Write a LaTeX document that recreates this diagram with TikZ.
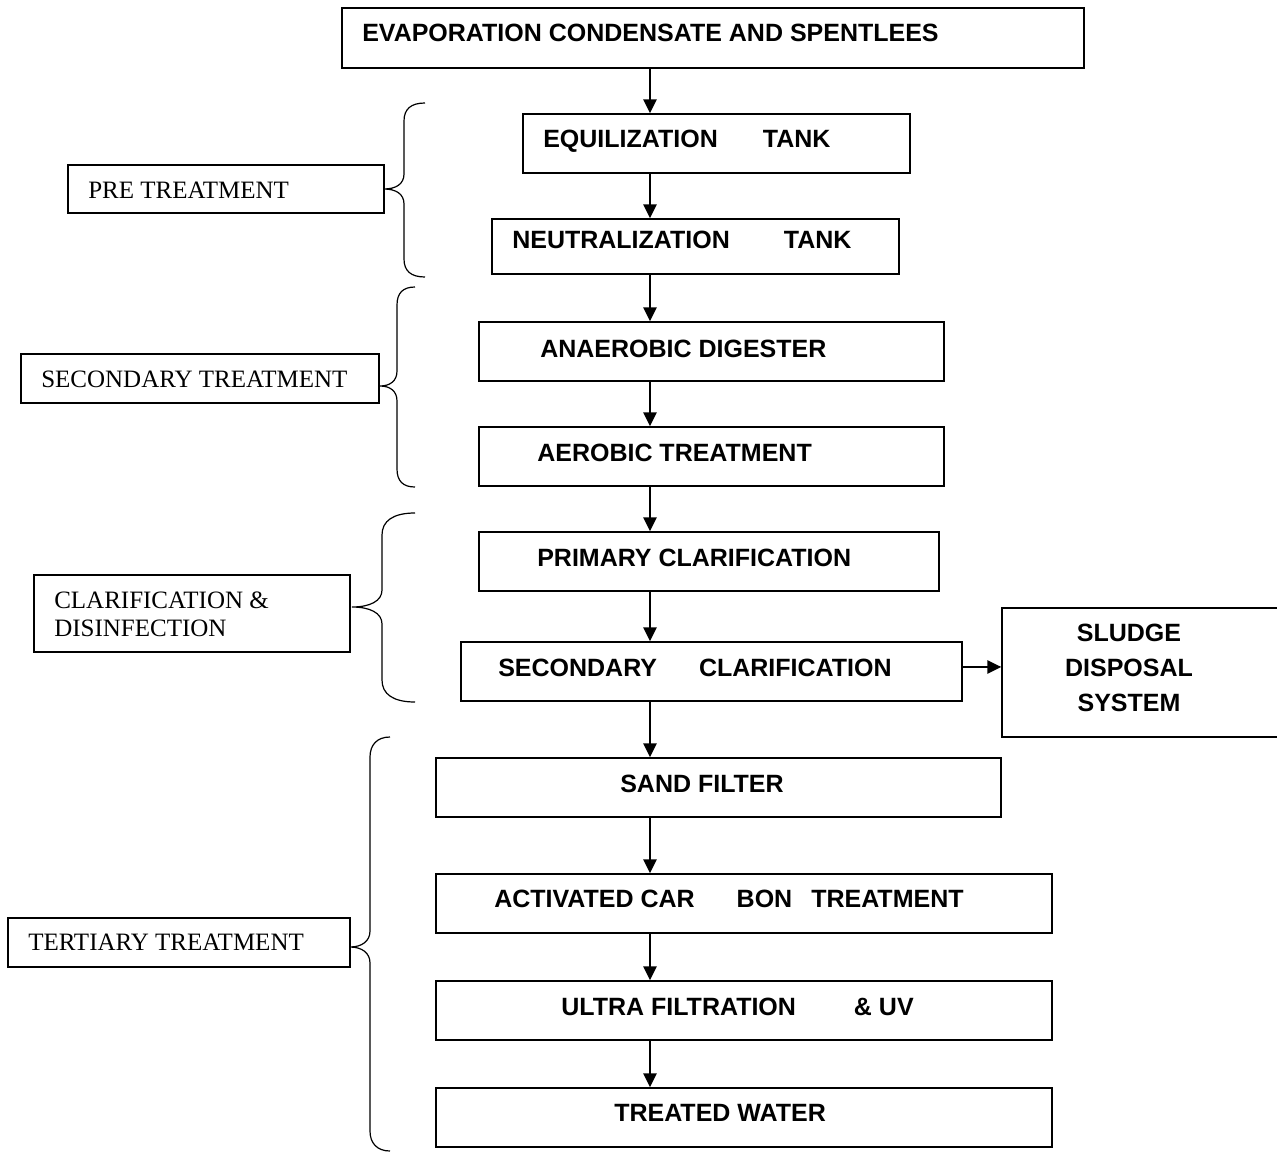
\documentclass[tikz,border=0pt]{standalone}
\usepackage{fontspec}
\setmainfont{Liberation Serif}
\newfontfamily\arialfont{Liberation Sans}
\usetikzlibrary{arrows.meta,fit}

\tikzset{
  flowbox/.style={draw, line width=1.1pt, inner sep=0pt},
  flowtext/.style={font=\arialfont\bfseries\fontsize{18.75}{26.25}\selectfont, inner sep=0pt, anchor=west, text height=13.4pt, text depth=0pt},
  sludgetext/.style={font=\arialfont\bfseries\fontsize{18.75}{26.25}\selectfont, inner sep=0pt, align=center},
  sidetext/.style={font=\fontsize{18.75}{21}\selectfont, inner sep=0pt, anchor=west, align=left},
  flowarrow/.style={line width=1.3pt, -{Triangle[length=10.5pt,width=10pt]}},
  sidebrace/.style={line width=0.9pt},
}

\begin{document}
\begin{tikzpicture}[x=0.75pt,y=0.75pt,yscale=-1,xscale=1]
\useasboundingbox (0,0) rectangle (1277,1152);
\coordinate (spine) at (650,0);

%Shape: Rectangle
\node [flowbox, fit={(342,8) (1084,68)}] (evap) {};
%Shape: Rectangle
\node [flowbox, fit={(523,114) (910,173)}] (equal) {};
%Shape: Rectangle
\node [flowbox, fit={(492,219) (899,274)}] (neutral) {};
%Shape: Rectangle
\node [flowbox, fit={(479,322) (944,381)}] (anaer) {};
%Shape: Rectangle
\node [flowbox, fit={(479,427) (944,486)}] (aer) {};
%Shape: Rectangle
\node [flowbox, fit={(479,532) (939,591)}] (primclar) {};
%Shape: Rectangle
\node [flowbox, fit={(461,642) (962,701)}] (secclar) {};
%Shape: Rectangle
\node [flowbox, fit={(1002,608) (1290,737)}] (sludge) {};
%Shape: Rectangle
\node [flowbox, fit={(436,758) (1001,817)}] (sand) {};
%Shape: Rectangle
\node [flowbox, fit={(436,874) (1052,933)}] (carbon) {};
%Shape: Rectangle
\node [flowbox, fit={(436,981) (1052,1040)}] (ultra) {};
%Shape: Rectangle
\node [flowbox, fit={(436,1088) (1052,1147)}] (treated) {};

% Text Node
\node [flowtext] (evaptxt) at (362,33) {EVAPORATION CONDENSATE AND SPENTLEES};
% Text Node
\node [flowtext] (equaltxt) at (543,139) {EQUILIZATION\hspace{1.8em}TANK};
% Text Node
\node [flowtext] (neutraltxt) at (512,240) {NEUTRALIZATION\hspace{2.16em}TANK};
% Text Node
\node [flowtext] (anaertxt) at (540,349) {ANAEROBIC DIGESTER};
% Text Node
\node [flowtext] (aertxt) at (537,453) {AEROBIC TREATMENT};
% Text Node
\node [flowtext] (primclartxt) at (537,558) {PRIMARY CLARIFICATION};
% Text Node
\node [flowtext] (secclartxt) at (498,668) {SECONDARY\hspace{1.68em}CLARIFICATION};
% Text Node
\node [sludgetext] (sludgetxt) at (1129,668) {SLUDGE\\DISPOSAL\\SYSTEM};
% Text Node
\node [flowtext] (sandtxt) at (620,784) {SAND FILTER};
% Text Node
\node [flowtext] (carbontxt) at (494,899) {ACTIVATED CAR\hspace{1.68em}BON\hspace{0.76em}TREATMENT};
% Text Node
\node [flowtext] (ultratxt) at (561,1007) {ULTRA FILTRATION\hspace{2.32em}\& UV};
% Text Node
\node [flowtext] (treatedtxt) at (614,1113) {TREATED WATER};

% Arrows
\draw [flowarrow] (evap.south -| spine) -- (equal.north -| spine);
\draw [flowarrow] (equal.south -| spine) -- (neutral.north -| spine);
\draw [flowarrow] (neutral.south -| spine) -- (anaer.north -| spine);
\draw [flowarrow] (anaer.south -| spine) -- (aer.north -| spine);
\draw [flowarrow] (aer.south -| spine) -- (primclar.north -| spine);
\draw [flowarrow] (primclar.south -| spine) -- (secclar.north -| spine);
\draw [flowarrow] (secclar.south -| spine) -- (sand.north -| spine);
\draw [flowarrow] (sand.south -| spine) -- (carbon.north -| spine);
\draw [flowarrow] (carbon.south -| spine) -- (ultra.north -| spine);
\draw [flowarrow] (ultra.south -| spine) -- (treated.north -| spine);
\draw [flowarrow] ([yshift=-3.4pt]secclar.east) -- ([yshift=-3.4pt]secclar.east -| sludge.west);

%Shape: Rectangle
\node [flowbox, fit={(68,165) (384,213)}] (pre) {};
%Shape: Rectangle
\node [flowbox, fit={(21,354) (379,403)}] (second) {};
%Shape: Rectangle
\node [flowbox, fit={(34,575) (350,652)}] (clardis) {};
%Shape: Rectangle
\node [flowbox, fit={(8,918) (350,967)}] (tert) {};

% Text Node
\node [sidetext] (pretxt) at (88,190) {PRE TREATMENT};
% Text Node
\node [sidetext] (secondtxt) at (41,379) {SECONDARY TREATMENT};
% Text Node
\node [sidetext] (clardistxt) at (54,614) {CLARIFICATION \&\\DISINFECTION};
% Text Node
\node [sidetext] (terttxt) at (28,942) {TERTIARY TREATMENT};

%Shape: Brace
\draw [sidebrace] (425,103) .. controls (411,103) and (404,109) .. (404,121) -- (404,174)
  .. controls (404,184) and (396,189) .. (384,189) .. controls (396,189) and (404,194) .. (404,204)
  -- (404,259) .. controls (404,271) and (411,277) .. (425,277);
%Shape: Brace
\draw [sidebrace] (415,287) .. controls (403,287) and (397,293) .. (397,305) -- (397,371)
  .. controls (397,381) and (390,386) .. (380,386) .. controls (390,386) and (397,391) .. (397,401)
  -- (397,469) .. controls (397,481) and (403,487) .. (415,487);
%Shape: Brace
\draw [sidebrace] (415,513) .. controls (393,513) and (382,521) .. (382,535) -- (382,590)
  .. controls (382,601) and (370,607) .. (352,607) .. controls (370,607) and (382,613) .. (382,624)
  -- (382,680) .. controls (382,694) and (393,702) .. (415,702);
%Shape: Brace
\draw [sidebrace] (390,737) .. controls (377,737) and (370,745) .. (370,757) -- (370,931)
  .. controls (370,941) and (362,947) .. (350,947) .. controls (362,947) and (370,953) .. (370,963)
  -- (370,1131) .. controls (370,1143) and (377,1151) .. (390,1151);
\end{tikzpicture}
\end{document}
